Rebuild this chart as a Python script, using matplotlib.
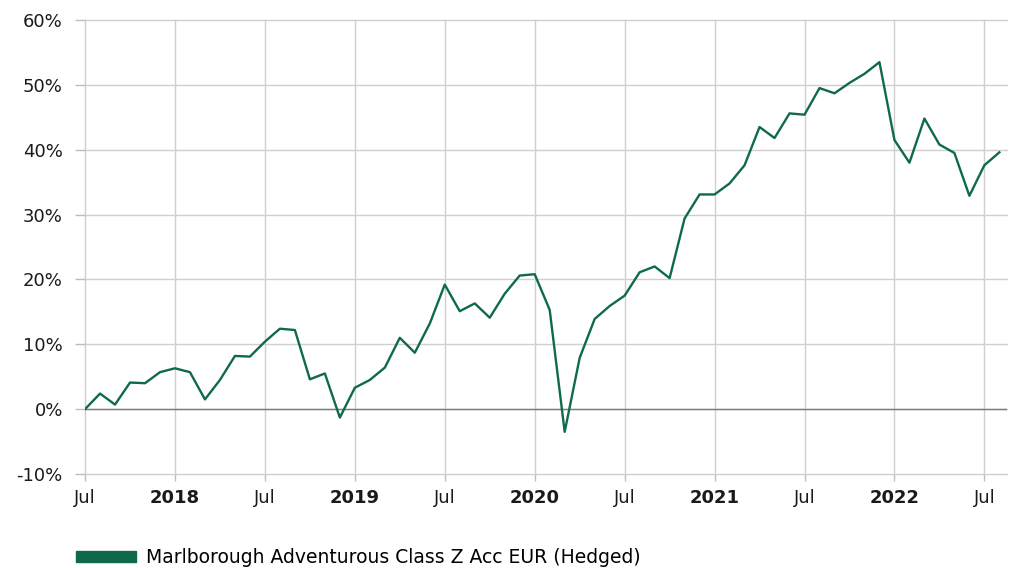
import numpy as np
import matplotlib
matplotlib.use("Agg")
import matplotlib.pyplot as plt
from matplotlib.patches import Patch

# Monthly cumulative performance, Jul 2017 - Aug 2022 (%)
perf = [
    0.0, 2.4, 0.7, 4.1, 4.0, 5.7,            # Jul-Dec 2017
    6.3, 5.7, 1.5, 4.5, 8.2, 8.1,            # Jan-Jun 2018
    10.4, 12.4, 12.2, 4.6, 5.5, -1.3,        # Jul-Dec 2018
    3.3, 4.5, 6.4, 11.0, 8.7, 13.2,          # Jan-Jun 2019
    19.2, 15.1, 16.3, 14.1, 17.8, 20.6,      # Jul-Dec 2019
    20.8, 15.3, -3.5, 7.9, 13.9, 15.9,       # Jan-Jun 2020
    17.5, 21.1, 22.0, 20.2, 29.4, 33.1,      # Jul-Dec 2020
    33.1, 34.8, 37.6, 43.5, 41.8, 45.6,      # Jan-Jun 2021
    45.4, 49.5, 48.7, 50.3, 51.7, 53.5,      # Jul-Dec 2021
    41.5, 38.0, 44.8, 40.8, 39.5, 32.9,      # Jan-Jun 2022
    37.6, 39.6,                              # Jul-Aug 2022
]
tick_labels = ["Jul", "2018", "Jul", "2019", "Jul", "2020",
               "Jul", "2021", "Jul", "2022", "Jul"]
y_ticks = [-10, 0, 10, 20, 30, 40, 50, 60]
series_name = "Marlborough Adventurous Class Z Acc EUR (Hedged)"

line_color = "#0f6a4c"
grid_color = "#cfcfcf"

fig = plt.figure(figsize=(10.16, 5.68), dpi=100)
ax = fig.add_axes([0.0837, 0.1655, 0.9073, 0.7993])

months = np.arange(len(perf))
ax.plot(months, perf, color=line_color, linewidth=1.7, zorder=3)

ax.set_xlim(0, 61.5)
ax.set_ylim(-10, 60)
ax.set_yticks(y_ticks)
ax.set_yticklabels([f"{v}%" for v in y_ticks])
ax.set_xticks(np.arange(0, 61, 6))
ax.set_xticklabels(tick_labels)
for lab in ax.get_xticklabels():
    if lab.get_text() != "Jul":
        lab.set_fontweight("bold")

ax.grid(True, color=grid_color, linewidth=1.0, zorder=0)
for gl in ax.get_xgridlines() + ax.get_ygridlines():
    gl.set_clip_on(False)
ax.axhline(0, color="#7a7a7a", linewidth=1.0, zorder=2)
for s in ax.spines.values():
    s.set_visible(False)
ax.tick_params(axis="both", colors="#bdbdbd", labelcolor="#1a1a1a",
               labelsize=13, width=1.0)
ax.tick_params(axis="y", length=7, pad=9)
ax.tick_params(axis="x", length=5, pad=6)

handle = Patch(facecolor=line_color, edgecolor=line_color)
fig.legend([handle], [series_name], loc="lower left",
           bbox_to_anchor=(0.058, -0.028), frameon=False,
           fontsize=13.5, handlelength=3.2, handleheight=0.5,
           handletextpad=0.55)

fig.savefig("out.png", dpi=100)
